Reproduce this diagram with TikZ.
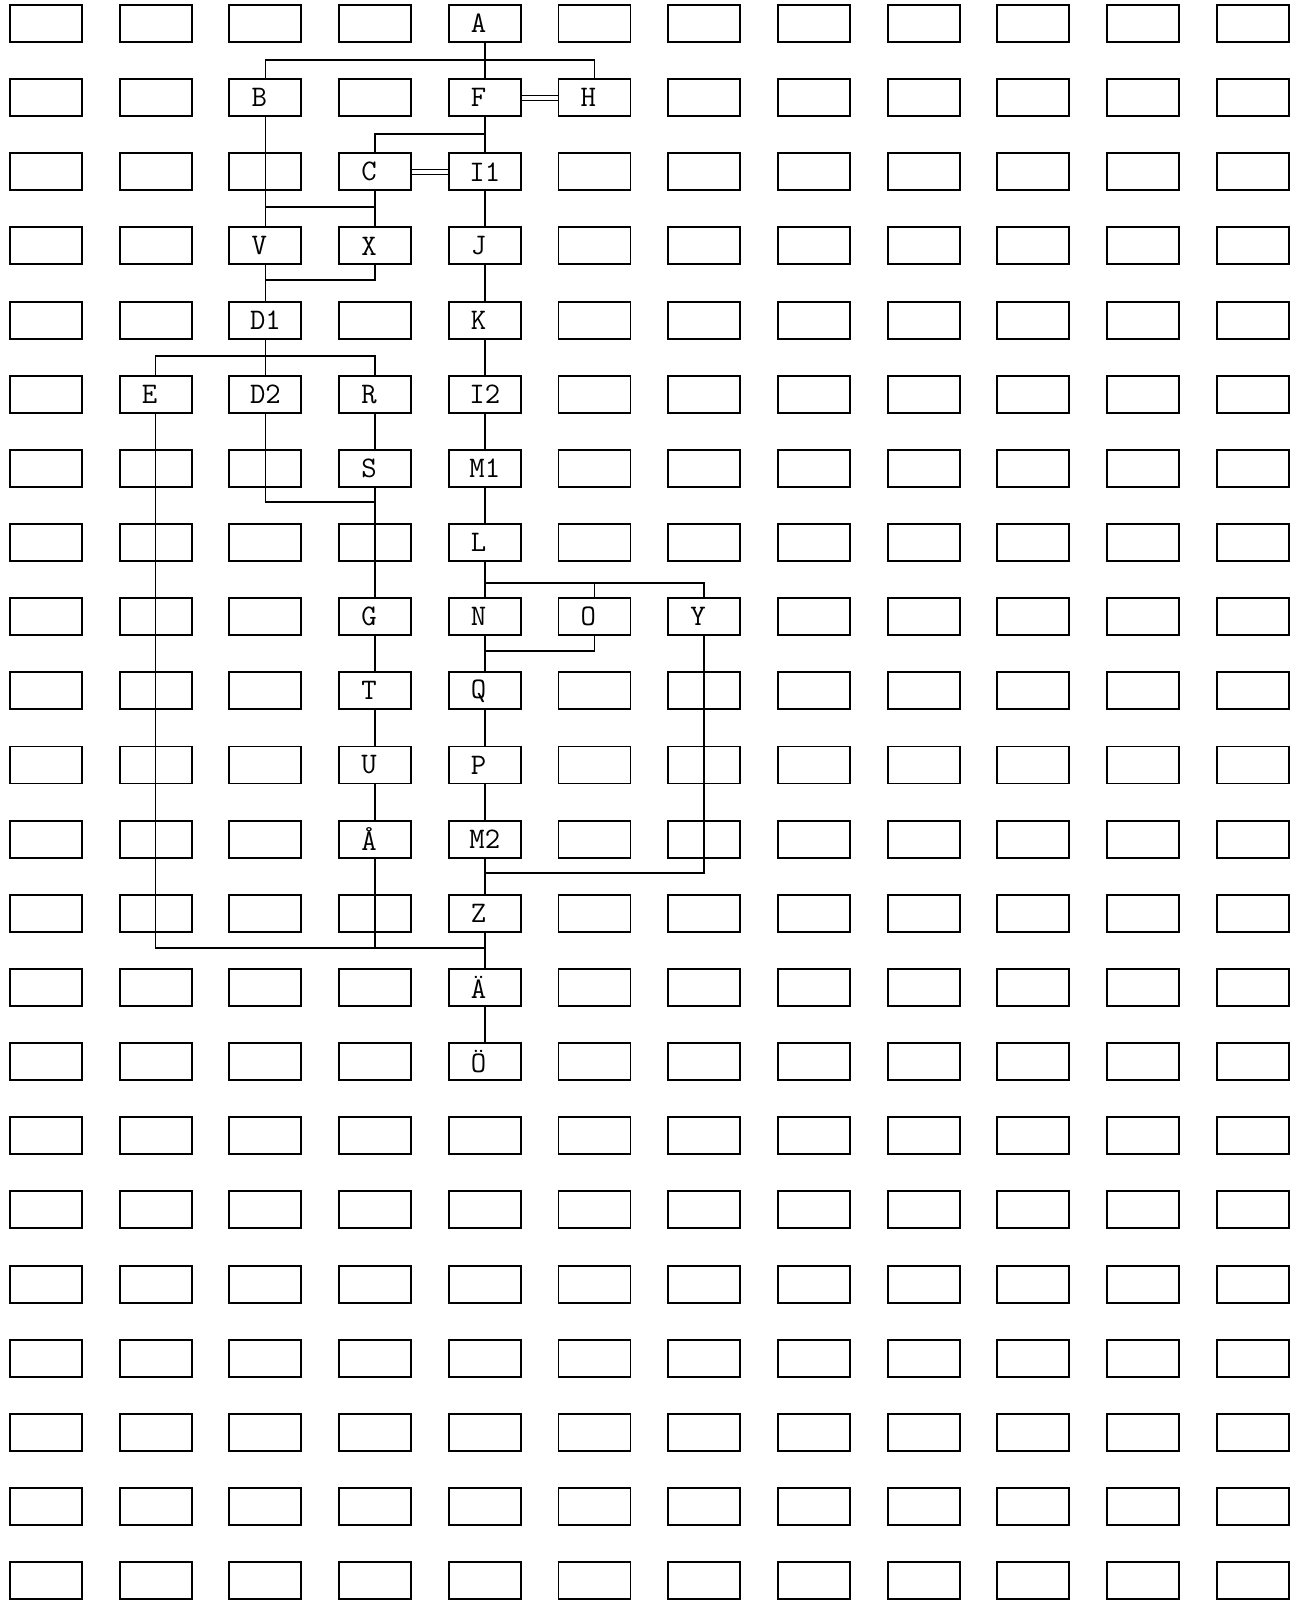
\documentclass[tikz,border=0pt]{standalone}
\usepackage{fontspec}
\makeatletter
\def\usedcells{,5-1,3-2,5-2,6-2,4-3,5-3,3-4,4-4,5-4,3-5,5-5,2-6,3-6,4-6,5-6,4-7,5-7,5-8,4-9,5-9,6-9,7-9,4-10,5-10,4-11,5-11,4-12,5-12,5-13,5-14,5-15,}
\newcommand\emptycell[2]{%
  \edef\my@tmp{\noexpand\in@{,#1-#2,}{\usedcells}}\my@tmp
  \ifin@\else\node[box] (e-#1-#2) at (p-#1-#2) {};\fi}
\makeatother
\tikzset{
  box/.style={draw, line width=1.1pt, minimum width=1.44cm, minimum height=0.74cm,
    inner sep=0pt, font=\ttfamily\fontsize{17}{18}\selectfont},
  lft/.style={execute at begin node={\kern-7pt}},
  conn/.style={line width=0.85pt},
  heavy/.style={line width=1.5pt},
  dbl/.style={double, double distance=2.2pt, line width=0.6pt}
}
\begin{document}
\begin{tikzpicture}[x=0.02cm,y=-0.02cm]
\fill[white] (0,0) rectangle (1307,1600);
\useasboundingbox (0,0) rectangle (1307,1600);
% grid positions
\foreach \c in {1,...,12}{
  \foreach \r in {1,...,22}{
    \coordinate (p-\c-\r) at ({46+109.7*(\c-1)},{23.5+74.15*(\r-1)});
  }
}
% empty boxes
\foreach \c in {1,...,12}{
  \foreach \r in {1,...,22}{
    \emptycell{\c}{\r}
  }
}
% labelled boxes
\node[box,lft] (A)  at (p-5-1) {A};
\node[box,lft] (B)  at (p-3-2) {B};
\node[box,lft] (F)  at (p-5-2) {F};
\node[box,lft] (H)  at (p-6-2) {H};
\node[box,lft] (C)  at (p-4-3) {C};
\node[box] (I1) at (p-5-3) {I1};
\node[box,lft] (V)  at (p-3-4) {V};
\node[box,lft] (X)  at (p-4-4) {X};
\node[box,lft] (J)  at (p-5-4) {J};
\node[box] (D1) at (p-3-5) {D1};
\node[box,lft] (K)  at (p-5-5) {K};
\node[box,lft] (E)  at (p-2-6) {E};
\node[box] (D2) at (p-3-6) {D2};
\node[box,lft] (R)  at (p-4-6) {R};
\node[box] (I2) at (p-5-6) {I2};
\node[box,lft] (S)  at (p-4-7) {S};
\node[box] (M1) at (p-5-7) {M1};
\node[box,lft] (L)  at (p-5-8) {L};
\node[box,lft] (G)  at (p-4-9) {G};
\node[box,lft] (N)  at (p-5-9) {N};
\node[box,lft] (O)  at (p-6-9) {O};
\node[box,lft] (Y)  at (p-7-9) {Y};
\node[box,lft] (T)  at (p-4-10) {T};
\node[box,lft] (Q)  at (p-5-10) {Q};
\node[box,lft] (U)  at (p-4-11) {U};
\node[box,lft] (P)  at (p-5-11) {P};
\node[box,lft] (AA) at (p-4-12) {Å};
\node[box] (M2) at (p-5-12) {M2};
\node[box,lft] (Z)  at (p-5-13) {Z};
\node[box,lft] (AE) at (p-5-14) {Ä};
\node[box,lft] (OE) at (p-5-15) {Ö};
% bus levels
\coordinate (bus1) at (0,60);
\coordinate (bus2) at (0,134);
\coordinate (bus3) at (0,207);
\coordinate (bus4) at (0,280);
\coordinate (bus5) at (0,356);
\coordinate (bus6) at (0,502);
\coordinate (bus7) at (0,583);
\coordinate (bus8) at (0,651);
\coordinate (bus9) at (0,873);
\coordinate (bus10) at (0,948);
% connectors
\begin{scope}[conn]
\draw (A) -- (F);
\draw (B.north) -- (B.north |- bus1) -- (H.north |- bus1) -- (H.north);
\draw (F) -- (I1);
\draw (C.north) -- (C.north |- bus2) -- (F.south |- bus2);
\draw (B) -- (V);
\draw (C) -- (X);
\draw (V.north |- bus3) -- (X.north |- bus3);
\draw (I1) -- (J);
\draw (J) -- (K);
\draw (K) -- (I2);
\draw (I2) -- (M1);
\draw (M1) -- (L);
\draw (V) -- (D1);
\draw (X.south) -- (X.south |- bus4) -- (D1.north |- bus4);
\draw (D1) -- (D2);
\draw (E.north) -- (E.north |- bus5) -- (R.north |- bus5) -- (R.north);
\draw (R) -- (S);
\draw (D2.south) -- (D2.south |- bus6) -- (S.south |- bus6);
\draw (S) -- (G);
\draw (L) -- (N);
\draw (L.south |- bus7) -- (Y.north |- bus7) -- (Y.north);
\draw (O.north) -- (O.north |- bus7);
\draw (N) -- (Q);
\draw (O.south) -- (O.south |- bus8) -- (N.south |- bus8);
\draw (G) -- (T);
\draw (T) -- (U);
\draw[heavy] (U) -- (AA);
\draw (Q) -- (P);
\draw (P) -- (M2);
\draw (M2) -- (Z);
\draw (Z) -- (AE);
\draw (AE) -- (OE);
\draw (Y.south) -- (Y.south |- bus9) -- (M2.south |- bus9);
\draw (E.south) -- (E.south |- bus10) -- (Z.south |- bus10);
\draw (AA.south) -- (AA.south |- bus10);
\end{scope}
\draw[dbl] (F.east) -- (H.west);
\draw[dbl] (C.east) -- (I1.west);
\end{tikzpicture}
\end{document}
